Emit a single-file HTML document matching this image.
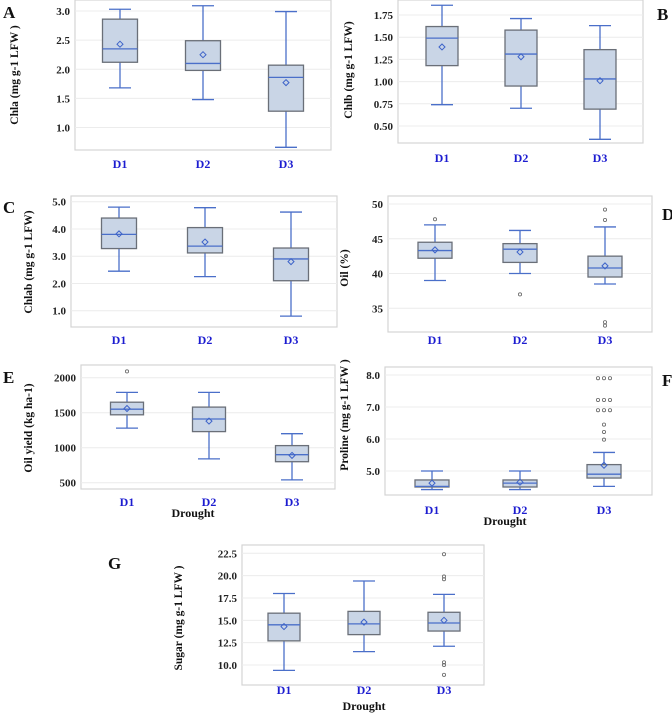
<!DOCTYPE html>
<html><head><meta charset="utf-8">
<style>
html,body{margin:0;padding:0;background:#fff;}
svg{display:block;font-family:"Liberation Serif",serif;}
</style></head>
<body>
<svg id="fig" width="672" height="715" viewBox="0 0 672 715"></svg>
<script>
const categories = ["D1","D2","D3"];
// [min, q1, median, q3, max] per category
const chlaBox = [[1.68,2.12,2.35,2.86,3.03],[1.48,1.98,2.10,2.49,3.09],[0.66,1.28,1.86,2.07,2.99]];
const chlaMean = [2.43,2.25,1.77];
const chlaTicks = [1.0,1.5,2.0,2.5,3.0];
const chlbBox = [[0.74,1.18,1.49,1.62,1.86],[0.70,0.95,1.31,1.58,1.71],[0.35,0.69,1.03,1.36,1.63]];
const chlbMean = [1.39,1.28,1.01];
const chlbTicks = [0.50,0.75,1.00,1.25,1.50,1.75];
const chlabBox = [[2.45,3.28,3.80,4.40,4.80],[2.25,3.12,3.37,4.05,4.78],[0.80,2.10,2.90,3.30,4.62]];
const chlabMean = [3.82,3.52,2.80];
const chlabTicks = [1.0,2.0,3.0,4.0,5.0];
const oilBox = [[39.0,42.2,43.3,44.5,47.0],[40.0,41.6,43.5,44.3,46.2],[38.5,39.5,40.8,42.5,46.7]];
const oilMean = [43.4,43.1,41.1];
const oilOut = [[47.8],[37.0],[49.2,47.7,33.0,32.5]];
const oilTicks = [35,40,45,50];
const yieldBox = [[1280,1470,1550,1650,1790],[840,1230,1410,1580,1790],[540,800,900,1030,1200]];
const yieldMean = [1560,1380,890];
const yieldOut = [[2090],[],[]];
const yieldTicks = [500,1000,1500,2000];
const prolBox = [[4.42,4.50,4.52,4.72,5.0],[4.42,4.50,4.62,4.72,5.0],[4.52,4.78,4.90,5.20,5.58]];
const prolMean = [4.62,4.65,5.18];
const prolOut = [[],[],[7.9,7.9,7.9,7.22,7.22,7.22,6.9,6.9,6.9,6.45,6.22,5.98]];
const prolTicks = [5.0,6.0,7.0,8.0];
const sugarBox = [[9.4,12.7,14.5,15.8,18.0],[11.5,13.4,14.6,16.0,19.4],[12.1,13.8,14.7,15.9,17.9]];
const sugarMean = [14.3,14.8,15.0];
const sugarOut = [[],[],[22.4,19.9,19.6,10.3,10.0,8.9]];
const sugarTicks = [10.0,12.5,15.0,17.5,20.0,22.5];

const NS="http://www.w3.org/2000/svg";
const svg=document.getElementById('fig');
function mk(tag,attrs,parent,text){const e=document.createElementNS(NS,tag);for(const k in attrs)e.setAttribute(k,attrs[k]);if(text!==undefined)e.textContent=text;(parent||svg).appendChild(e);return e;}

function panel(p){
  const g=mk('g',{});
  
  
  const y=v=>p.y0+(v-p.v0)*(p.y1-p.y0)/(p.v1-p.v0);
  const fr=mk('rect',{x:p.fx0,y:p.fy0,width:p.fx1-p.fx0,height:p.fy1-p.fy0,fill:'#fff',stroke:'#d4d4d4','stroke-width':1.2},g);
  
  
  p.ticks.forEach(t=>{
    const gl=mk('line',{x1:p.fx0,x2:p.fx1,y1:y(t),y2:y(t),stroke:'#ececec','stroke-width':1},g);
    
    
    const tl=mk('text',{x:p.fx0-5,y:y(t)+4,'text-anchor':'end','font-size':11,'font-weight':'bold',fill:'#222'},g,t.toFixed(p.dec));
    
    
  });
  const bw=p.bw;
  p.box.forEach((b,i)=>{
    const cx=p.cx[i];
    const bg=mk('g',{},g);
    
    
    mk('line',{x1:cx,x2:cx,y1:y(b[0]),y2:y(b[1]),stroke:'#4a6fc9','stroke-width':1.3},bg);
    mk('line',{x1:cx,x2:cx,y1:y(b[3]),y2:y(b[4]),stroke:'#4a6fc9','stroke-width':1.3},bg);
    mk('line',{x1:cx-11,x2:cx+11,y1:y(b[0]),y2:y(b[0]),stroke:'#4a6fc9','stroke-width':1.3},bg);
    mk('line',{x1:cx-11,x2:cx+11,y1:y(b[4]),y2:y(b[4]),stroke:'#4a6fc9','stroke-width':1.3},bg);
    mk('rect',{x:cx-bw/2,y:y(b[3]),width:bw,height:y(b[1])-y(b[3]),fill:'#c9d5e6',stroke:'#6a6f78','stroke-width':1.3},bg);
    mk('line',{x1:cx-bw/2,x2:cx+bw/2,y1:y(b[2]),y2:y(b[2]),stroke:'#4a6fc9','stroke-width':1.3},bg);
    const my=y(p.mean[i]);
    mk('path',{d:`M${cx} ${my-3}L${cx+3} ${my}L${cx} ${my+3}L${cx-3} ${my}Z`,fill:'none',stroke:'#3d63c9','stroke-width':1},bg);
    if(p.out){
      const seen={};
      p.out[i].forEach(v=>{
        const k=v.toFixed(2);seen[k]=(seen[k]||0)+1;const n=seen[k]-1;
        const ox=n===0?0:(n===1?6:-6);
        const c=mk('circle',{cx:cx+ox,cy:y(v),r:1.6,fill:'none',stroke:'#666','stroke-width':0.8},bg);
        
        
      });
    }
    const cl=mk('text',{x:cx,y:p.ly,'text-anchor':'middle','font-size':12,'font-weight':'bold',fill:'#1c1cd0'},g,categories[i]);
    
    
  });
  const yl=mk('text',{x:0,y:0,transform:`translate(${p.yx},${p.yy}) rotate(-90)`,'text-anchor':'middle','font-size':11.5,'font-weight':'bold',fill:'#111'},g,p.ylabel);
  
  
  const lt=mk('text',{x:p.lx,y:p.lyy,'font-size':17,'font-weight':'bold',fill:'#111'},g,p.letter);
  
  
  if(p.xt){
    const xt=mk('text',{x:p.xt[0],y:p.xt[1],'text-anchor':'middle','font-size':12,'font-weight':'bold',fill:'#111'},g,'Drought');
    
    
  }
}

panel({name:'chla',box:chlaBox,mean:chlaMean,ticks:chlaTicks,dec:1,fx0:75,fx1:331,fy0:0,fy1:150,v0:3.0,y0:11,v1:1.0,y1:127.5,cx:[120,203,286],bw:35,ly:168,ylabel:'Chla (mg g-1 LFW )',yx:18,yy:75,letter:'A',lx:3,lyy:18});
panel({name:'chlb',box:chlbBox,mean:chlbMean,ticks:chlbTicks,dec:2,fx0:398,fx1:643,fy0:0,fy1:143,v0:1.75,y0:15,v1:0.50,y1:126,cx:[442,521,600],bw:32,ly:162,ylabel:'Chlb (mg g-1 LFW)',yx:352,yy:70,letter:'B',lx:657,lyy:20});
panel({name:'chlab',box:chlabBox,mean:chlabMean,ticks:chlabTicks,dec:1,fx0:71,fx1:337,fy0:196,fy1:327,v0:5.0,y0:201.7,v1:1.0,y1:310.7,cx:[119,205,291],bw:35,ly:344,ylabel:'Chlab (mg g-1 LFW)',yx:32,yy:262,letter:'C',lx:3,lyy:213});
panel({name:'oil',box:oilBox,mean:oilMean,out:oilOut,ticks:oilTicks,dec:0,fx0:388,fx1:652,fy0:196,fy1:332,v0:50,y0:204,v1:35,y1:308.3,cx:[435,520,605],bw:34,ly:344,ylabel:'Oil (%)',yx:348,yy:268,letter:'D',lx:662,lyy:220});
panel({name:'oil-yield',box:yieldBox,mean:yieldMean,out:yieldOut,ticks:yieldTicks,dec:0,fx0:81,fx1:335,fy0:365,fy1:489,v0:2000,y0:377.7,v1:500,y1:482.7,cx:[127,209,292],bw:33,ly:506,ylabel:'Oil yield  (kg ha-1)',yx:32,yy:428,letter:'E',lx:3,lyy:383,xt:[193,517]});
panel({name:'proline',box:prolBox,mean:prolMean,out:prolOut,ticks:prolTicks,dec:1,fx0:385,fx1:652,fy0:367,fy1:495,v0:8.0,y0:375,v1:5.0,y1:471,cx:[432,520,604],bw:34,ly:514,ylabel:'Proline (mg g-1 LFW )',yx:348,yy:415,letter:'F',lx:662,lyy:386,xt:[505,525]});
panel({name:'sugar',box:sugarBox,mean:sugarMean,out:sugarOut,ticks:sugarTicks,dec:1,fx0:242,fx1:484,fy0:545,fy1:685,v0:22.5,y0:553.3,v1:10.0,y1:665,cx:[284,364,444],bw:32,ly:694,ylabel:'Sugar (mg g-1 LFW )',yx:182,yy:618,letter:'G',lx:108,lyy:569,xt:[364,710]});
</script>
</body></html>
